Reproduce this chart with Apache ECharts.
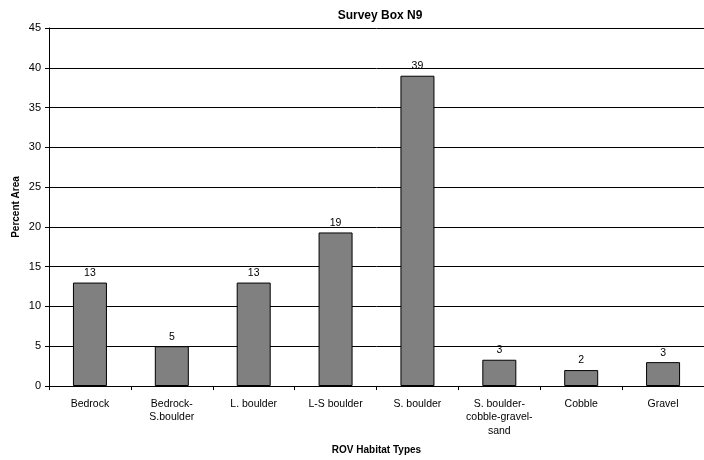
<!DOCTYPE html>
<html>
<head>
<meta charset="utf-8">
<script src="https://cdn.jsdelivr.net/npm/echarts@6/dist/echarts.min.js"></script>
<style>
  html, body { margin: 0; padding: 0; background: #fff; }
  #chart { width: 704px; height: 460px; }
</style>
</head>
<body>
<div id="chart"></div>
<script>
// Habitat categories along the x axis
const habitatTypes = [
  'Bedrock',
  'Bedrock-\nS.boulder',
  'L. boulder',
  'L-S boulder',
  'S. boulder',
  'S. boulder-\ncobble-gravel-\nsand',
  'Cobble',
  'Gravel'
];

// Percent of surveyed area per habitat type
const percentArea = [13, 5, 13, 19.3, 39, 3.3, 2, 3];

// Value axis ticks
const yMin = 0;
const yMax = 45;
const yStep = 5;

const FONT = 'Liberation Sans, Arial, sans-serif';

const chart = echarts.init(document.getElementById('chart'), null, { renderer: 'canvas' });

chart.setOption({
  backgroundColor: '#ffffff',
  animation: false,
  title: {
    text: 'Survey Box N9',
    left: 375,
    top: 5,
    textAlign: 'center',
    textStyle: { fontFamily: FONT, fontSize: 12, fontWeight: 'bold', color: '#000' }
  },
  grid: {
    left: 49,
    top: 28,
    width: 664,
    height: 359,
    containLabel: false
  },
  xAxis: {
    type: 'category',
    data: habitatTypes,
    name: 'ROV Habitat Types',
    nameLocation: 'middle',
    nameGap: 59,
    nameMoveOverlap: false,
    nameTextStyle: { fontFamily: FONT, fontSize: 10, fontWeight: 'bold', color: '#000' },
    axisLine: { show: true, lineStyle: { color: '#000', width: 1 } },
    axisTick: { show: true, length: 4, alignWithLabel: false, lineStyle: { color: '#000' } },
    axisLabel: {
      interval: 0,
      margin: 11,
      fontFamily: FONT,
      fontSize: 10.5,
      color: '#000',
      lineHeight: 13.5
    },
    splitLine: { show: false }
  },
  yAxis: {
    type: 'value',
    min: yMin,
    max: yMax,
    interval: yStep,
    name: 'Percent Area',
    nameLocation: 'middle',
    nameGap: 28,
    nameMoveOverlap: false,
    nameRotate: 90,
    nameTextStyle: { fontFamily: FONT, fontSize: 10, fontWeight: 'bold', color: '#000' },
    axisLine: { show: true, lineStyle: { color: '#000', width: 1 } },
    axisTick: { show: true, length: 4, inside: false, lineStyle: { color: '#000' } },
    axisLabel: { margin: 8, fontFamily: FONT, fontSize: 11, color: '#000' },
    splitLine: { show: true, lineStyle: { color: '#000', width: 1 } }
  },
  series: [{
    type: 'bar',
    data: percentArea,
    barWidth: 34,
    itemStyle: { color: '#808080', borderColor: '#000', borderWidth: 1 },
    label: {
      show: true,
      position: 'top',
      distance: 4,
      fontFamily: FONT,
      fontSize: 10.5,
      color: '#000',
      formatter: p => String(Math.round(p.value))
    }
  }]
});
</script>
</body>
</html>
